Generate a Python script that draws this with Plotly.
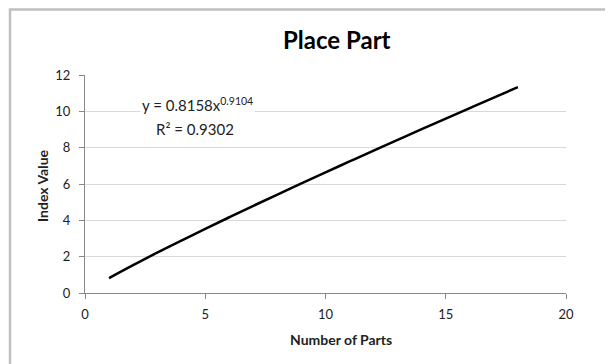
import plotly.graph_objects as go

x_parts = [1, 2, 3, 4, 5, 6, 7, 8, 9, 10, 11, 12, 13, 14, 15, 16, 17, 18]
index_value = [0.82, 1.53, 2.22, 2.88, 3.53, 4.17, 4.80, 5.42, 6.03, 6.64,
               7.24, 7.84, 8.43, 9.02, 9.60, 10.18, 10.76, 11.33]
x_ticks = [0, 5, 10, 15, 20]
y_ticks = [0, 2, 4, 6, 8, 10, 12]

FONT = "Lato, 'Open Sans', sans-serif"
OFF = 8  # default page body margin
W, H = 605, 356
# page-pixel plot area
PL, PR, PT, PB = 85, 566, 75, 293
L, T = PL - OFF, PT - OFF
R = W - (PR - OFF)
B = H - (PB - OFF)
pw, ph = PR - PL, PB - PT

def px(xp):
    return (xp - PL) / pw

def py(yp):
    return (PB - yp) / ph

fig = go.Figure()
fig.add_trace(go.Scatter(x=x_parts, y=index_value, mode="lines", line_shape="spline",
                         line=dict(color="black", width=2.5), showlegend=False))

tickfont = dict(size=13, family=FONT, color="#222222")
fig.update_layout(
    width=W, height=H,
    margin=dict(l=L, r=R, t=T, b=B),
    paper_bgcolor="white", plot_bgcolor="white",
    font=dict(family=FONT, color="#222222", size=13),
    xaxis=dict(range=[0, 20], tickvals=x_ticks, showgrid=False, zeroline=False,
               showline=True, linecolor="#888888", linewidth=1,
               ticks="outside", ticklen=5, tickcolor="#888888",
               ticklabelstandoff=4, tickfont=tickfont),
    yaxis=dict(range=[0, 12], tickvals=y_ticks, showgrid=True, gridcolor="#d9d9d9",
               gridwidth=1, zeroline=False, showline=True, linecolor="#888888",
               linewidth=1, ticks="outside", ticklen=5, tickcolor="#888888",
               ticklabelstandoff=6, tickfont=tickfont),
    shapes=[dict(type="rect", xref="paper", yref="paper",
                 x0=px(10), x1=px(640), y0=py(390), y1=py(9.5),
                 line=dict(color="#c0c0c0", width=2.5), fillcolor="rgba(0,0,0,0)", layer="below")],
    annotations=[
        dict(text="<b>Place Part</b>", xref="paper", yref="paper", x=px(337), y=py(39),
             showarrow=False, font=dict(size=24, family=FONT, color="black"),
             xanchor="center", yanchor="middle"),
        dict(text="<b>Number of Parts</b>", xref="paper", yref="paper", x=px(341), y=py(339),
             showarrow=False, font=dict(size=14, family=FONT, color="#222222"),
             xanchor="center", yanchor="middle"),
        dict(text="<b>Index Value</b>", xref="paper", yref="paper", x=px(42), y=py(186),
             showarrow=False, textangle=-90, font=dict(size=14, family=FONT, color="#222222"),
             xanchor="center", yanchor="middle"),
        dict(text="y = 0.8158x<sup>0.9104</sup>", xref="paper", yref="paper", x=px(197), y=py(105),
             showarrow=False, font=dict(size=15, family=FONT, color="#222222"),
             xanchor="center", yanchor="middle", bgcolor="white"),
        dict(text="R² = 0.9302", xref="paper", yref="paper", x=px(195), y=py(129),
             showarrow=False, font=dict(size=15, family=FONT, color="#222222"),
             xanchor="center", yanchor="middle", bgcolor="white"),
    ],
)

fig.write_html("out.html")
